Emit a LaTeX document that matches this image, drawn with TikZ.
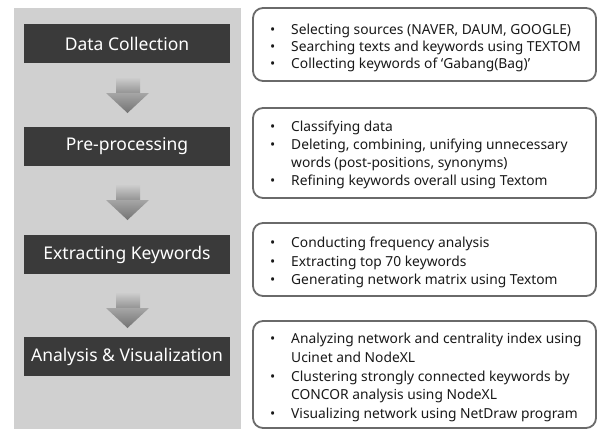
\documentclass[tikz,border=0pt]{standalone}
\usepackage{fontspec}
\setmainfont{Noto Sans}
\usetikzlibrary{positioning}
\definecolor{panelgray}{HTML}{D0D0D0}
\definecolor{darkbox}{HTML}{3A3A3A}
\definecolor{framegray}{HTML}{6A6A6A}
\tikzset{
  stepbox/.style={fill=darkbox, draw=none, minimum width=206pt, minimum height=39pt, inner sep=0pt,
    text=white, font=\fontsize{17.5}{20}\selectfont},
  infobox/.style={draw=framegray, line width=1.8pt, rounded corners=10pt, fill=white},
  infotext/.style={anchor=west, align=left, inner sep=0pt, text=black!90},
}
\newcommand{\bitem}[1]{\makebox[21pt][l]{\textbullet}#1}
\newcommand{\bcont}[1]{\hspace*{21pt}#1}
\newcommand{\flowarrow}[1]{%
  \shade[top color=panelgray, bottom color=black!42] (116,#1) rectangle (140,#1+16);
  \shade[top color=black!35, bottom color=black!55] (106,#1+16) -- (149,#1+16) -- (127.5,#1+36) -- cycle;
}
\begin{document}
\begin{tikzpicture}[x=1pt,y=-1pt]
\useasboundingbox (0,0) rectangle (599,429);
% left panel
\fill[panelgray] (14,8) rectangle (241,429);
% step boxes
\node[stepbox] (s1) at (127,43.5) {Data Collection};
\node[stepbox] (s2) at (127,146.5) {Pre-processing};
\node[stepbox] (s3) at (127,254.5) {Extracting Keywords};
\node[stepbox] (s4) at (127,356.5) {Analysis \& Visualization};
% arrows
\flowarrow{77}
\flowarrow{184}
\flowarrow{292}
% info boxes
\draw[infobox] (253,8) rectangle (596,81);
\draw[infobox] (253,108) rectangle (596,198);
\draw[infobox] (253,223) rectangle (596,296);
\draw[infobox] (253,321) rectangle (596,428);
\node[infotext, font=\fontsize{13.8}{17}\selectfont] (t1) at (270,47.5) {\bitem{Selecting sources (NAVER, DAUM, GOOGLE)}\\
\bitem{Searching texts and keywords using TEXTOM}\\
\bitem{Collecting keywords of ‘Gabang(Bag)’}};
\node[infotext, font=\fontsize{13.8}{18}\selectfont] (t2) at (270,154.5) {\bitem{Classifying data}\\
\bitem{Deleting, combining, unifying unnecessary}\\
\bcont{words (post-positions, synonyms)}\\
\bitem{Refining keywords overall using Textom}};
\node[infotext, font=\fontsize{13.8}{18.5}\selectfont] (t3) at (270,262.5) {\bitem{Conducting frequency analysis}\\
\bitem{Extracting top 70 keywords}\\
\bitem{Generating network matrix using Textom}};
\node[infotext, font=\fontsize{13.8}{18.7}\selectfont] (t4) at (270,377.5) {\bitem{Analyzing network and centrality index using}\\
\bcont{Ucinet and NodeXL}\\
\bitem{Clustering strongly connected keywords by}\\
\bcont{CONCOR analysis using NodeXL}\\
\bitem{Visualizing network using NetDraw program}};
\end{tikzpicture}
\end{document}
